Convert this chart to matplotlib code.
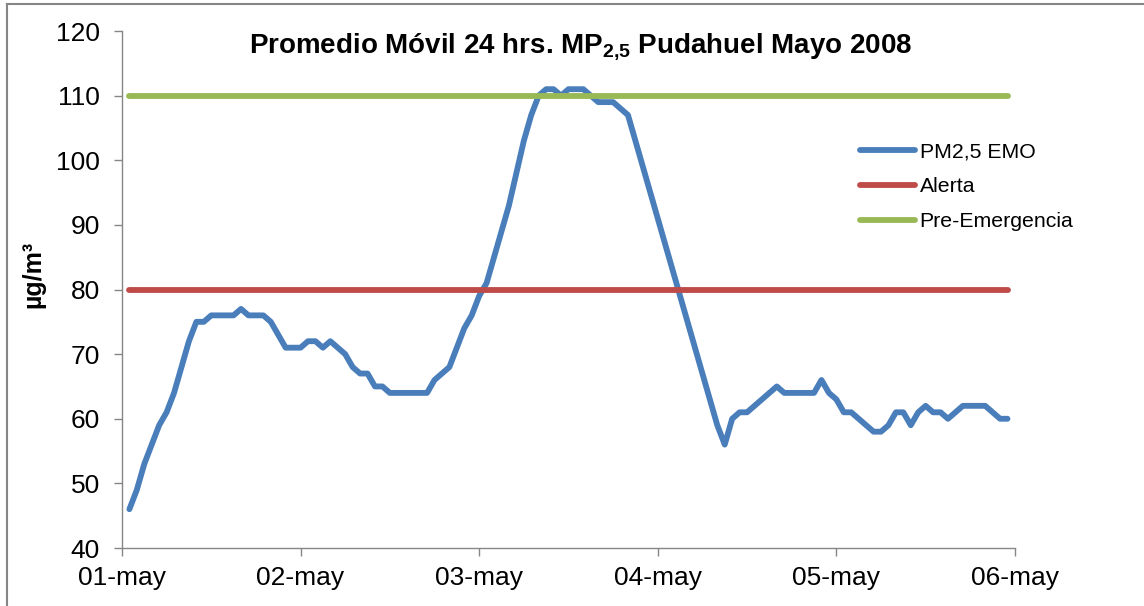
import matplotlib
matplotlib.use("Agg")
import matplotlib.pyplot as plt
from matplotlib.lines import Line2D

plt.rcParams["font.family"] = ["Liberation Sans", "DejaVu Sans"]
plt.rcParams["mathtext.fontset"] = "custom"
plt.rcParams["mathtext.rm"] = "Liberation Sans"
plt.rcParams["mathtext.bf"] = "Liberation Sans:bold"

# horas desde 01-may 00:00
hours = list(range(1, 120))
pm25 = [46, 49, 53, 56, 59, 61, 64, 68, 72, 75, 75, 76, 76, 76, 76, 77, 76, 76, 76, 75,
        73, 71, 71, 71, 72, 72, 71, 72, 71, 70, 68, 67, 67, 65, 65, 64, 64, 64, 64, 64,
        64, 66, 67, 68, 71, 74, 76, 79, 81, 85, 89, 93, 98, 103, 107, 110, 111, 111, 110, 111,
        111, 111, 110, 109, 109, 109, 108, 107, 103, 99, 95, 91, 87, 83, 79, 75, 71, 67, 63, 59,
        56, 60, 61, 61, 62, 63, 64, 65, 64, 64, 64, 64, 64, 66, 64, 63, 61, 61, 60, 59,
        58, 58, 59, 61, 61, 59, 61, 62, 61, 61, 60, 61, 62, 62, 62, 62, 61, 60, 60]
alerta = [80] * len(hours)
pre_emergencia = [110] * len(hours)

day_ticks = [0, 24, 48, 72, 96, 120]
day_labels = ["01-may", "02-may", "03-may", "04-may", "05-may", "06-may"]

fig = plt.figure(figsize=(11.44, 6.06), dpi=100)
ax = fig.add_axes([0.1066, 0.0957, 0.7806, 0.8531])

ax.plot(hours, pm25, color="#4A7EBB", lw=4.2, label="PM2,5 EMO", solid_joinstyle="round", solid_capstyle="round")
ax.plot(hours, alerta, color="#BE4B48", lw=4.2, label="Alerta", solid_capstyle="round")
ax.plot(hours, pre_emergencia, color="#98B954", lw=4.2, label="Pre-Emergencia", solid_capstyle="round")

ax.set_xlim(0, 120)
ax.set_ylim(40, 120)
ax.set_xticks(day_ticks)
ax.set_xticklabels(day_labels)
ax.set_yticks(range(40, 121, 10))

for s in ["top", "right"]:
    ax.spines[s].set_visible(False)
for s in ["left", "bottom"]:
    ax.spines[s].set_color("#868686")
    ax.spines[s].set_linewidth(1)
ax.tick_params(axis="both", colors="#868686", labelcolor="black", labelsize=19, length=6, width=1)
ax.tick_params(axis="y", pad=10)
ax.tick_params(axis="x", pad=7)

ax.set_ylabel("µg/m³", fontsize=18, fontweight="bold")
ax.yaxis.set_label_coords(-0.086, 0.53)

ax.text(0.513, 0.957, r"Promedio Móvil 24 hrs. MP$_{\mathbf{2{,}5}}$ Pudahuel Mayo 2008",
        transform=ax.transAxes, ha="center", va="baseline", fontsize=20, fontweight="bold")

ax.legend(loc="upper left", bbox_to_anchor=(0.8265, 0.785), frameon=False, fontsize=15.3,
          handlelength=2.6, handletextpad=0.2, labelspacing=0.75, borderpad=0, borderaxespad=0)

# borde del area del grafico
fig.add_artist(Line2D([7 / 1144, 1], [1 - 4 / 606, 1 - 4 / 606], transform=fig.transFigure,
                      color="#868686", lw=1.5))
fig.add_artist(Line2D([7 / 1144, 7 / 1144], [0, 1 - 4 / 606], transform=fig.transFigure,
                      color="#868686", lw=1.5))

fig.savefig("out.png", dpi=100)
